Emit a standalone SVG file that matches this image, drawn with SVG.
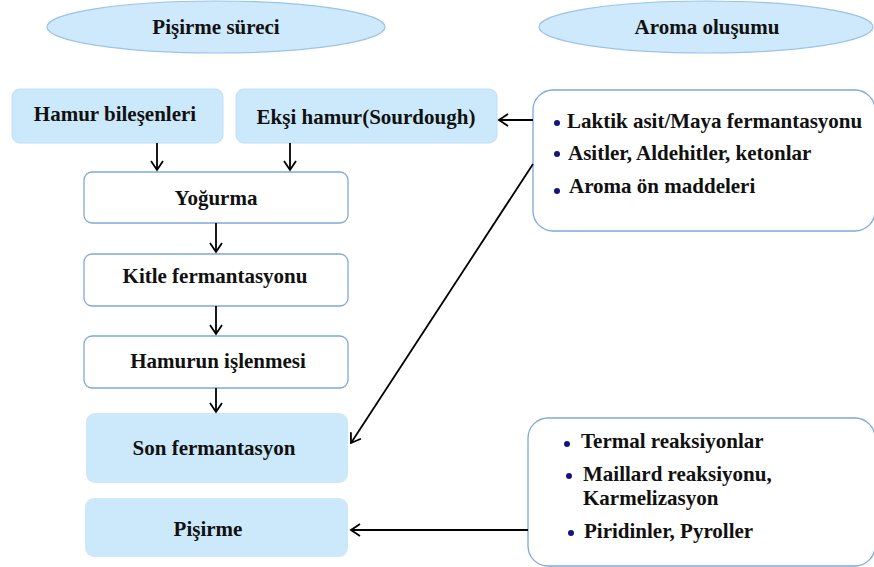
<svg xmlns="http://www.w3.org/2000/svg" width="874" height="567" viewBox="0 0 874 567">
<style>
text{font-family:"Liberation Serif","Times New Roman",serif;font-weight:bold;font-size:21px;fill:#111}
.c{text-anchor:middle}
.ell{fill:#cde9fb;stroke:#9cc3e8;stroke-width:1.2}
.fill{fill:#cce9fb;stroke:#bfdff6;stroke-width:1}
.wb{fill:#fff;stroke:#7ea8dc;stroke-width:1.3}
.dot{fill:#14147a}
.con line{stroke:#000;stroke-width:1.8;marker-end:url(#ah)}
</style>
<defs>
<marker id="ah" markerUnits="userSpaceOnUse" markerWidth="14" markerHeight="16" refX="10" refY="7" orient="auto">
<path d="M1,1 L10,7 L1,13" fill="none" stroke="#000" stroke-width="1.8"/>
</marker>
</defs>
<rect width="874" height="567" fill="#fff"/>
<g id="head1"><ellipse class="ell" cx="216" cy="27" rx="169" ry="26"/><text class="c" x="216" y="34">Pişirme süreci</text></g>
<g id="head2"><ellipse class="ell" cx="706" cy="27" rx="167" ry="26"/><text class="c" x="707" y="34">Aroma oluşumu</text></g>
<g id="hamur"><rect class="fill" x="12" y="89" width="211" height="54" rx="8"/><text class="c" x="115" y="121">Hamur bileşenleri</text></g>
<g id="eksi"><rect class="fill" x="236" y="89" width="261" height="54" rx="8"/><text class="c" x="366" y="124">Ekşi hamur(Sourdough)</text></g>
<g id="yogurma"><rect class="wb" x="84" y="172" width="264" height="51" rx="8"/><text class="c" x="216" y="205">Yoğurma</text></g>
<g id="kitle"><rect class="wb" x="84" y="254" width="264" height="52" rx="8"/><text class="c" x="215" y="283">Kitle fermantasyonu</text></g>
<g id="islenme"><rect class="wb" x="84" y="336" width="264" height="52" rx="8"/><text class="c" x="218" y="368">Hamurun işlenmesi</text></g>
<g id="son"><rect x="86" y="413" width="262" height="70" rx="9" fill="#cce9fb"/><text class="c" x="214" y="455">Son fermantasyon</text></g>
<g id="pisirme"><rect x="85" y="498" width="263" height="59" rx="9" fill="#cce9fb"/><text class="c" x="208" y="536">Pişirme</text></g>
<g id="aroma1"><rect class="wb" x="533" y="90" width="342" height="141" rx="20"/>
<circle class="dot" cx="557" cy="123" r="3"/><text x="567" y="128">Laktik asit/Maya fermantasyonu</text>
<circle class="dot" cx="557" cy="154" r="3"/><text x="568" y="160">Asitler, Aldehitler, ketonlar</text>
<circle class="dot" cx="557" cy="191" r="3"/><text x="569" y="193">Aroma ön maddeleri</text></g>
<g id="aroma2"><rect class="wb" x="528" y="418" width="347" height="148" rx="20"/>
<circle class="dot" cx="567" cy="444" r="3"/><text x="581" y="448">Termal reaksiyonlar</text>
<circle class="dot" cx="569" cy="476" r="3"/><text x="583" y="481">Maillard reaksiyonu,</text>
<text x="583" y="505">Karmelizasyon</text>
<circle class="dot" cx="571" cy="533" r="3"/><text x="584" y="538">Piridinler, Pyroller</text></g>
<g id="connectors" class="con">
<line x1="157" y1="143" x2="157" y2="170"/>
<line x1="290" y1="143" x2="290" y2="170"/>
<line x1="216" y1="223" x2="216" y2="252"/>
<line x1="216" y1="306" x2="216" y2="334"/>
<line x1="216" y1="388" x2="216" y2="412"/>
<line x1="533" y1="120" x2="499" y2="120"/>
<line x1="533" y1="164" x2="351" y2="443"/>
<line x1="528" y1="530" x2="351" y2="530"/>
</g>
</svg>
